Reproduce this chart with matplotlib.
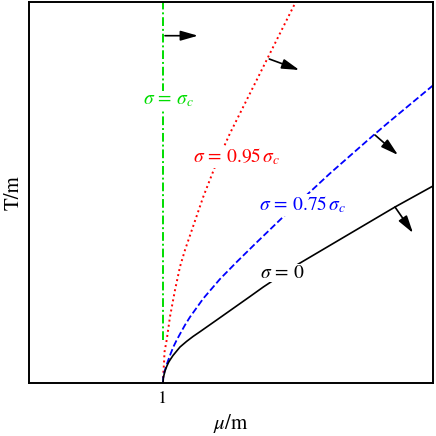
import numpy as np
import matplotlib
matplotlib.use("Agg")
from matplotlib import pyplot as plt

plt.rcParams['font.family'] = 'serif'
plt.rcParams['font.serif'] = ['STIXGeneral', 'Liberation Serif', 'DejaVu Serif']
plt.rcParams['mathtext.fontset'] = 'stix'

# curves (mu/m, T/m)
mu_s0 = [1.0, 1.0022, 1.0075, 1.0149, 1.0276, 1.0410, 1.0522, 1.0746, 1.1022,
         1.1269, 1.1769, 1.2239, 1.2761, 1.4007, 1.5246, 1.6493, 1.7485,
         1.9851, 2.7313, 3.0149]
T_s0 = [0.0, 0.0373, 0.0597, 0.0896, 0.1231, 0.1530, 0.1716, 0.2052, 0.2388,
        0.2687, 0.3112, 0.3470, 0.3828, 0.4701, 0.5575, 0.6455, 0.7164,
        0.8731, 1.3134, 1.4701]

mu_s75 = [1.0, 1.0022, 1.0075, 1.0149, 1.0261, 1.0396, 1.0560, 1.0769, 1.1007,
          1.1269, 1.1642, 1.2015, 1.3007, 1.4254, 1.5500, 1.6866, 1.8955,
          2.2463, 2.5672, 2.6791, 3.0149]
T_s75 = [0.0, 0.0448, 0.0709, 0.0970, 0.1343, 0.1716, 0.2164, 0.2687, 0.3172,
         0.3657, 0.4328, 0.4925, 0.6306, 0.7761, 0.9030, 1.0373, 1.2388,
         1.5642, 1.8463, 1.9418, 2.2209]

mu_s95 = [1.0, 1.0022, 1.0075, 1.0112, 1.0276, 1.0522, 1.0896, 1.1269, 1.1642,
          1.3007, 1.3881, 1.5000, 1.5993, 1.6993, 1.7985, 1.9978]
T_s95 = [0.0, 0.0672, 0.1470, 0.2313, 0.3209, 0.4948, 0.6940, 0.8679, 0.9925,
         1.3903, 1.6142, 1.8634, 2.0619, 2.2612, 2.4604, 2.8582]

mu_sc = [1.0, 1.0]
T_sc = [0.32, 2.9]

labels = [r'$\sigma\,=\,\sigma_c$', r'$\sigma\,=\,0.95\,\sigma_c$',
          r'$\sigma\,=\,0.75\,\sigma_c$', r'$\sigma\,=\,0$']
colors = ['#00dd00', 'red', 'blue', 'black']

# label centres and arrows (start -> tip), same order as labels
label_pos = [(1.0373, 2.1119), (1.55, 1.6888), (2.0448, 1.3284), (1.8881, 0.8209)]
arrows = [((1.0149, 2.5918), (1.2612, 2.5918)),
          ((1.7933, 2.4179), (2.0172, 2.3358)),
          ((2.5821, 1.8507), (2.7537, 1.7015)),
          ((2.7313, 1.3134), (2.8657, 1.1194))]

fig = plt.figure(figsize=(4.36, 4.36), dpi=100)
ax = fig.add_axes([29/436, 53/436, 404/436, 381/436])

ax.plot(mu_sc, T_sc, color=colors[0], lw=1.4, dashes=(4.5, 1.5, 1, 1.5))
ax.plot(mu_s95, T_s95, color=colors[1], lw=1.4, ls=':')
ax.plot(mu_s75, T_s75, color=colors[2], lw=1.3, ls='--')
ax.plot(mu_s0, T_s0, color=colors[3], lw=1.2, ls='-')

for lab, c, (x, y) in zip(labels, colors, label_pos):
    ax.text(x, y, lab, color=c, fontsize=14, ha='center', va='center',
            bbox=dict(facecolor='white', edgecolor='none', pad=0.5), zorder=5)

for (x0, y0), (x1, y1) in arrows:
    ax.annotate('', xy=(x1, y1), xytext=(x0, y0),
                arrowprops=dict(arrowstyle='-|>,head_length=0.7,head_width=0.2',
                                color='black', lw=1.2, mutation_scale=15,
                                shrinkA=0, shrinkB=0))

ax.set_xlim(0, 404/134)
ax.set_ylim(0, 381/134)
ax.set_xticks([1])
ax.set_xticklabels(['1'])
ax.set_yticks([])
ax.tick_params(axis='x', length=0, pad=6, labelsize=13)
for s in ax.spines.values():
    s.set_linewidth(1.4)
ax.set_xlabel(r'$\mu/\mathrm{m}$', fontsize=15, labelpad=3)
ax.set_ylabel('T/m', fontsize=15, labelpad=4)

fig.savefig('out.png', dpi=100)
